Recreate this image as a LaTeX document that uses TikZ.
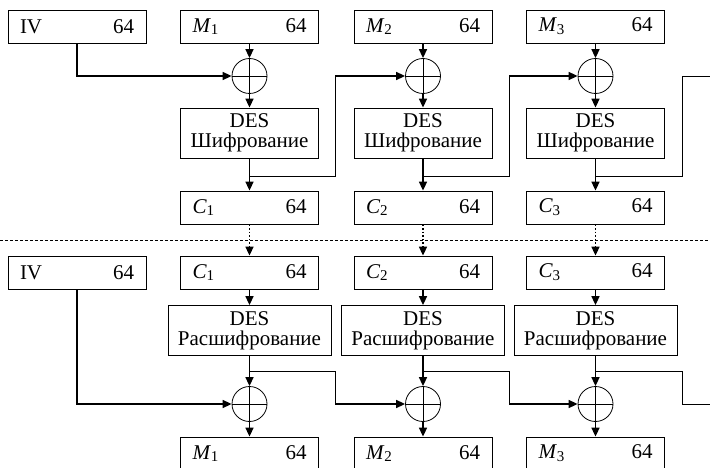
\documentclass[tikz,border=0pt]{standalone}
\usepackage{fontspec}
\setmainfont{Liberation Serif}
\usetikzlibrary{arrows.meta}

\newcommand{\blocktext}[2]{\makebox[114pt]{#1\hfill #2}}
\newcommand{\idx}[2]{\textit{#1}\raisebox{-0.3ex}{\fontsize{15}{15}\selectfont #2}}

\begin{document}
\begin{tikzpicture}[x=1pt,y=-1pt,
	font=\fontsize{21}{20}\selectfont,
	box/.style={draw, line width=0.8pt, minimum width=138pt, minimum height=33pt, inner sep=0pt},
	enc/.style={box, minimum height=50pt, align=center},
	dec/.style={enc, minimum width=163pt},
	xor/.style={circle, draw, line width=0.8pt, minimum size=35pt, inner sep=0pt,
		path picture={\draw[line width=0.8pt] (path picture bounding box.north) -- (path picture bounding box.south)
			(path picture bounding box.west) -- (path picture bounding box.east);}},
	flow/.style={line width=1.6pt, -{Triangle[length=9pt,width=8pt]}},
	link/.style={line width=0.8pt}]

	\useasboundingbox (0,0) rectangle (710,468);

	% encryption
	\node[box] (iv1) at (77,26.5) {\blocktext{IV}{64}};
	\node[box] (m1) at (249.5,26.5) {\blocktext{\idx{M}{1}}{64}};
	\node[box] (m2) at (423,26.5) {\blocktext{\idx{M}{2}}{64}};
	\node[box] (m3) at (595.5,26.5) {\blocktext{\idx{M}{3}}{64}};
	\node[xor] (x1) at (249.5,76) {};
	\node[xor] (x2) at (423,76) {};
	\node[xor] (x3) at (595.5,76) {};
	\node[enc] (e1) at (249.5,133) {DES\\Шифрование};
	\node[enc] (e2) at (423,133) {DES\\Шифрование};
	\node[enc] (e3) at (595.5,133) {DES\\Шифрование};
	\node[box] (c1) at (249.5,207.5) {\blocktext{\idx{C}{1}}{64}};
	\node[box] (c2) at (423,207.5) {\blocktext{\idx{C}{2}}{64}};
	\node[box] (c3) at (595.5,207.5) {\blocktext{\idx{C}{3}}{64}};

	\coordinate (b1) at (249.5,176);
	\coordinate (b2) at (423,176);
	\coordinate (b3) at (595.5,176);
	\coordinate (r1) at (335,76);
	\coordinate (r2) at (509,76);
	\coordinate (r3) at (682,76);
	\coordinate (o1) at (712,76);

	\draw[flow] (iv1) |- (x1);
	\draw[flow] (m1) -- (x1);
	\draw[flow] (m2) -- (x2);
	\draw[flow] (m3) -- (x3);
	\draw[flow] (x1) -- (e1);
	\draw[flow] (x2) -- (e2);
	\draw[flow] (x3) -- (e3);
	\draw[flow] (e1) -- (c1);
	\draw[flow] (e2) -- (c2);
	\draw[flow] (e3) -- (c3);
	\draw[link] (b1) -| (r1);
	\draw[link] (b2) -| (r2);
	\draw[link] (b3) -| (r3) -- (o1);
	\draw[flow] (r1) -- (x2);
	\draw[flow] (r2) -- (x3);

	\draw[line width=0.6pt, dash pattern=on 3pt off 2pt] (0,240) -- (710,240);

	% decryption
	\node[box] (iv2) at (77,272.5) {\blocktext{IV}{64}};
	\node[box] (d1) at (249.5,272.5) {\blocktext{\idx{C}{1}}{64}};
	\node[box] (d2) at (423,272.5) {\blocktext{\idx{C}{2}}{64}};
	\node[box] (d3) at (595.5,272.5) {\blocktext{\idx{C}{3}}{64}};
	\node[dec] (k1) at (249.5,330.5) {DES\\Расшифрование};
	\node[dec] (k2) at (423,330.5) {DES\\Расшифрование};
	\node[dec] (k3) at (595.5,330.5) {DES\\Расшифрование};
	\node[xor] (y1) at (249.5,404) {};
	\node[xor] (y2) at (423,404) {};
	\node[xor] (y3) at (595.5,404) {};
	\node[box] (p1) at (249.5,453.5) {\blocktext{\idx{M}{1}}{64}};
	\node[box] (p2) at (423,453.5) {\blocktext{\idx{M}{2}}{64}};
	\node[box] (p3) at (595.5,453.5) {\blocktext{\idx{M}{3}}{64}};

	\coordinate (q1) at (249.5,371);
	\coordinate (q2) at (423,371);
	\coordinate (q3) at (595.5,371);
	\coordinate (s1) at (335,404);
	\coordinate (s2) at (509,404);
	\coordinate (s3) at (682,404);
	\coordinate (o2) at (712,404);

	\draw[flow, dotted] (c1) -- (d1);
	\draw[flow, dotted] (c2) -- (d2);
	\draw[flow, dotted] (c3) -- (d3);
	\draw[flow] (d1) -- (k1);
	\draw[flow] (d2) -- (k2);
	\draw[flow] (d3) -- (k3);
	\draw[flow] (k1) -- (y1);
	\draw[flow] (k2) -- (y2);
	\draw[flow] (k3) -- (y3);
	\draw[flow] (y1) -- (p1);
	\draw[flow] (y2) -- (p2);
	\draw[flow] (y3) -- (p3);
	\draw[flow] (iv2) |- (y1);
	\draw[link] (q1) -| (s1);
	\draw[link] (q2) -| (s2);
	\draw[link] (q3) -| (s3) -- (o2);
	\draw[flow] (s1) -- (y2);
	\draw[flow] (s2) -- (y3);

\end{tikzpicture}
\end{document}
